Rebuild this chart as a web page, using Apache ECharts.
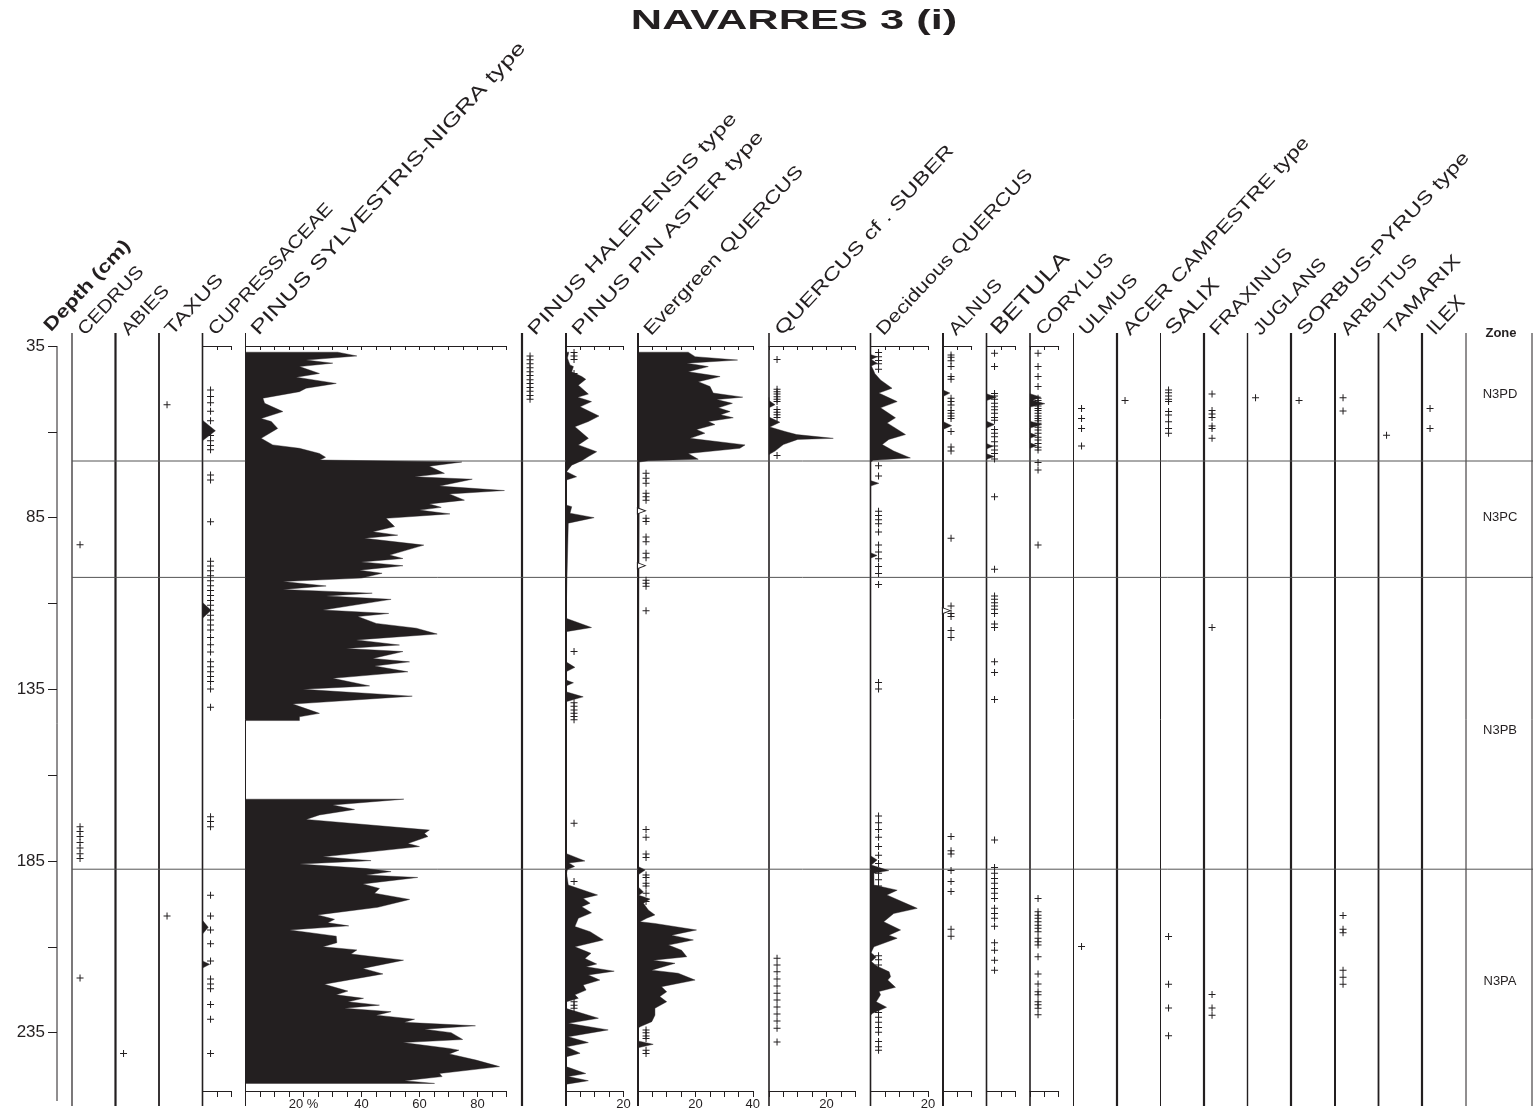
<!DOCTYPE html>
<html><head><meta charset="utf-8">
<script src="https://cdn.jsdelivr.net/npm/echarts/dist/echarts.min.js"></script>
<style>html,body{margin:0;padding:0;background:#fff}#c{width:1533px;height:1120px}</style>
</head><body><div id="c"></div>
<script>
// ---------------- DATA ----------------
const taxa = ['CEDRUS','ABIES','TAXUS','CUPRESSACEAE','PINUS SYLVESTRIS-NIGRA type','PINUS HALEPENSIS type','PINUS PIN ASTER type','Evergreen QUERCUS','QUERCUS cf . SUBER','Deciduous QUERCUS','ALNUS','BETULA','CORYLUS','ULMUS','ACER CAMPESTRE type','SALIX','FRAXINUS','JUGLANS','SORBUS-PYRUS type','ARBUTUS','TAMARIX','ILEX'];
const depthTicks = [35,60,85,110,135,160,185,210,235];
const depthLabels = [35,85,135,185,235];
const zoneBounds = [68.5, 102.4, 187.4];
const zoneNames = ['N3PD','N3PC','N3PB','N3PA'];
const zoneLabelDepths = [49, 85, 147, 220];

// Pinus sylvestris-nigra type (%), null = no samples (gap)
const psnDepth = [36.8,37.9,39.1,40.0,41.0,43.0,44.1,45.9,47.3,48.3,50.2,51.7,54.1,56.1,57.0,59.0,61.9,63.8,64.8,66.3,67.4,68.2,68.8,70.0,72.1,73.1,73.8,75.8,77.1,78.1,79.9,81.0,82.0,82.8,83.9,85.2,87.6,89.1,90.1,91.0,93.0,95.9,96.9,97.9,99.0,100.3,101.2,102.6,103.6,104.9,105.9,107.0,107.8,108.8,111.9,112.9,113.8,115.8,117.2,118.9,120.6,122.1,123.1,124.0,126.0,127.0,128.2,129.9,131.8,134.0,135.0,137.0,139.3,142.0,143.0,144.1,
 155.5,
 167.0,168.7,170.0,171.6,172.9,176.0,177.0,177.9,179.9,180.8,183.8,184.9,185.9,187.2,188.1,189.1,189.8,191.7,193.0,194.4,196.2,198.5,200.7,202.0,203.0,203.9,205.1,206.9,208.8,210.0,210.9,212.1,213.9,216.3,217.9,220.9,222.9,224.0,225.0,226.0,227.0,227.9,228.9,229.9,231.1,232.0,233.0,234.0,235.0,237.0,237.9,239.6,240.1,241.2,243.0,244.9,246.9,247.8,249.0,249.8];
const psnValue = [31.8,38.4,20.9,30.1,18.6,25.5,17.5,31.3,20.9,18.6,6.0,6.6,12.9,5.4,8.9,11.1,5.4,9.4,18.6,25.5,27.6,25.7,74.6,63.4,68.6,58.3,78.2,66.9,89.3,70.3,75.5,63.4,67.5,60.0,70.5,48.5,51.4,43.9,52.5,41.0,61.5,49.7,54.3,39.9,54.3,39.3,47.1,40.0,12.9,27.8,12.9,43.7,27.8,50.2,26.7,49.4,38.7,45.1,58.9,66.1,38.2,53.1,34.7,54.3,43.9,56.6,44.5,56.0,30.1,42.8,19.8,57.5,16.3,25.5,18.6,18.6,
 null,
 54.6,30.1,37.6,25.5,20.9,63.4,61.7,62.9,56.0,60.0,26.7,43.3,18.6,41.6,50.2,41.6,59.4,40.5,46.2,44.5,56.6,45.6,24.9,30.7,28.4,35.6,15.2,31.3,31.5,26.7,38.4,36.4,54.5,40.5,47.4,27.2,35.3,31.3,40.7,35.3,46.2,34.1,50.2,45.1,58.3,54.8,79.3,61.7,70.9,74.9,54.3,70.3,73.6,70.3,79.5,87.6,66.9,67.8,54.8,65.2];

// Pinus pinaster type
const ppinDepth = [36.8,38.5,40.5,41.0,42.5,43.9,44.7,46.4,49.0,49.9,51.2,52.7,55.4,57.0,58.5,61.9,63.8,65.8,67.2,68.4,69.7,71.6,73.1,74.0,81.3,81.8,83.7,85.0,86.6,114.3,117.0,118.2,127.0,128.6,129.9,132.3,133.1,134.0,135.7,137.2,138.6,182.8,185.0,185.6,186.6,187.5,188.6,192.0,194.9,195.9,197.3,198.3,200.1,201.7,204.1,205.6,208.0,210.0,211.9,213.4,215.0,215.8,217.1,218.2,219.7,221.1,222.6,224.0,225.0,226.0,228.0,230.8,232.3,234.2,236.2,237.9,239.1,241.0,242.0,244.9,246.9,247.8,249.0,250.0];
const ppinValue = [1.0,0.5,1.4,2.6,2.0,5.5,6.9,4.3,7.8,4.1,8.9,4.9,11.5,7.8,3.1,7.8,4.3,10.7,7.8,5.5,2.0,0.2,3.7,0.2,0,2.0,1.4,9.8,0.8,0,8.9,0,0,3.1,0,0,2.6,0,0,6.0,0,0,6.6,1.0,3.0,0.5,0.2,0.8,11.0,6.0,8.4,5.5,8.9,4.3,3.1,8.4,13.0,3.1,8.7,6.6,10.7,7.0,16.8,7.8,11.8,6.0,7.0,3.1,4.3,0.2,0.2,11.3,0.8,14.7,0.8,7.8,0.2,4.9,0.2,0,6.9,0.8,7.8,0.2];

// Evergreen Quercus
const evqDepth = [36.8,38.1,39.1,40.0,41.0,42.5,43.9,45.4,46.8,48.7,49.9,50.6,51.7,53.0,54.1,55.0,55.9,57.0,57.9,59.3,60.4,61.9,63.8,64.8,66.3,68.0,68.4,68.8,186.6,187.6,188.6,189.1,192.5,194.0,195.0,196.1,197.3,199.3,200.7,201.7,202.7,203.2,205.1,206.6,208.0,209.5,211.0,212.9,213.9,214.8,216.8,217.7,219.7,221.6,223.1,224.5,226.0,227.9,229.9,231.8,233.3,233.7,237.4,238.4,239.4];
const evqValue = [17.5,19.9,34.7,17.0,24.5,17.5,28.6,21.0,25.1,26.2,36.5,27.4,32.9,28.0,32.1,28.8,33.2,24.5,26.8,20.4,23.3,18.1,37.3,35.5,17.5,21.0,3.6,0.5,0,2.5,0.8,0,0,1.9,0.3,4.2,1.9,3.6,5.9,3.0,0.7,5.9,20.4,11.7,19.3,10.6,15.2,17.0,5.3,12.9,4.8,14.0,19.9,8.2,10.0,7.6,10.0,5.9,5.9,4.8,0.7,0,0,5.3,0];

// Quercus cf. suber
const suberDepth = [50.0,50.9,52.1,53.0,55.7,57.2,58.6,59.9,60.8,61.9,62.2,63.7,65.6,66.6];
const suberValue = [0,0,2.1,0,0,3.8,0.3,5.6,9.6,22.4,10.0,5.0,2.1,0];

// Deciduous Quercus
const decqDepth = [37.5,38.1,38.9,40.0,40.8,42.0,43.0,44.9,47.3,48.7,51.2,53.0,55.9,57.4,60.8,62.2,63.7,65.6,67.6,68.3,68.8,74.2,75.0,75.8,95.2,96.0,96.8,183.5,184.7,186.2,187.8,188.6,192.0,193.5,194.9,198.8,200.3,202.7,205.1,206.6,207.5,210.0,211.7,213.0,214.3,215.5,217.3,218.7,219.7,221.8,223.0,224.0,226.0,227.6,229.4,230.0];
const decqValue = [0,2.3,0.3,2.3,0.3,1.0,1.5,3.5,7.5,2.9,9.3,3.5,8.7,5.8,12.2,6.4,4.1,8.1,13.9,1.0,0,0,2.9,0,0,2.3,0,0,2.3,0.3,6.4,1.2,1.2,9.3,5.7,16.3,8.1,4.6,10.5,6.4,9.3,1.2,0.2,2.0,0.3,2.0,6.5,7.0,6.0,8.7,3.0,3.5,2.0,5.6,0.6,0];

// small silhouettes
const cupDepth = [56.6,59.7,62.6,109.7,112.0,114.3,202.3,204.3,206.3,214.1,215.1,216.2];
const cupValue = [0,4.5,0,0,3.0,0,0,2.0,0,0,2.5,0];
const alnusDepth = [47.8,48.7,49.7,57.0,58.2,59.3];
const alnusValue = [0,2.4,0,0,3.0,0];
const betulaDepth = [48.9,49.9,50.9,56.9,57.9,58.9,63.4,64.2,65.0,66.4,67.2,68.0];
const betulaValue = [0,3.4,0,0,2.8,0,0,2.2,0,0,2.8,0];
const corylusDepth = [48.9,49.9,50.8,51.8,52.8,56.9,57.9,58.9,60.3,61.1,61.9,63.2,64.0,64.8];
const corylusValue = [0,3.8,1.0,5.2,0,0,4.1,0,0,2.4,0,0,2.4,0];

// "+" = present below 1 % (depths, cm)
const cedrusPlus = [92.9,175.0,176.4,177.9,179.6,181.2,182.9,184.3,219.1];
const abiesPlus = [241.1];
const taxusPlus = [52.1,201.0];
const cupPlus = [47.8,49.7,51.5,54.0,56.8,59.7,61.1,62.6,64.0,65.2,72.6,74.0,86.2,97.7,99.1,100.5,101.9,103.4,104.8,106.2,107.7,109.1,110.5,112.0,113.4,114.8,116.3,117.7,119.9,122.0,124.1,127.0,128.4,129.9,131.3,132.7,134.9,140.2,172.1,173.5,175.0,195.0,201.0,205.1,209.1,214.1,219.4,220.8,222.2,226.8,231.1,241.1];
const phalPlus = [37.9,39.0,40.2,41.3,42.5,43.6,44.8,45.9,47.1,48.2,49.4,50.5];
const ppinPlus = [36.9,37.9,38.9,43.0,124.0,138.9,139.9,141.0,142.0,142.9,143.9,174.0,191.0,226.0,227.0,227.9];
const evqPlus = [72.1,73.5,75.0,77.9,78.9,79.9,85.2,86.1,90.6,92.0,95.4,96.7,103.2,104.1,105.0,112.1,175.8,178.1,183.0,184.0,189.1,189.8,191.5,192.3,194.4,196.8,234.2,235.0,236.0,236.7,240.1,241.1];
const evqOpen = [83.0,99.0];
const suberPlus = [38.9,47.6,48.3,49.0,49.8,50.5,51.2,53.5,54.3,55.0,55.8,66.9,213.3,215.3,217.3,219.4,221.4,223.5,225.5,227.5,229.6,231.6,233.7,237.7];
const decqPlus = [36.9,38.1,39.2,40.2,41.8,69.9,72.9,83.1,84.4,85.6,86.8,89.2,93.0,95.0,97.0,99.2,101.3,104.5,133.0,134.9,171.9,173.9,175.8,178.1,180.8,183.3,185.7,188.6,190.5,192.3,212.6,213.8,215.3,229.1,230.5,232.0,233.5,234.9,237.6,239.1,240.1];
const alnusPlus = [37.6,38.3,39.3,41.0,43.9,44.7,50.2,51.2,52.2,53.8,54.6,55.4,56.1,59.9,64.4,65.6,91.0,110.7,112.9,113.8,117.9,119.9,177.9,182.0,183.0,187.8,191.0,193.9,204.9,206.9];
const alnusOpen = [112.1];
const betulaPlus = [37.1,41.0,48.8,49.6,50.5,51.7,52.7,53.6,54.6,55.8,56.6,59.3,60.4,61.4,62.9,64.1,65.3,66.3,67.9,78.9,100.0,107.8,108.8,109.8,110.7,111.7,112.9,116.0,117.0,127.0,130.1,138.0,178.9,186.9,188.6,190.1,191.5,193.0,194.4,195.9,198.8,200.3,201.7,204.0,208.8,211.0,213.9,216.8];
const corylusPlus = [37.1,41.0,43.9,46.8,50.2,50.9,51.7,52.5,53.2,53.8,54.6,55.4,56.1,56.8,57.5,58.7,59.5,60.4,61.6,62.4,63.4,64.5,65.3,68.9,71.1,93.0,195.9,199.8,200.8,201.7,202.7,203.7,204.6,205.6,207.5,208.5,209.5,212.9,217.9,220.8,223.1,224.0,226.0,226.9,227.9,229.8];
const ulmusPlus = [53.2,56.1,59.0,64.1,209.9];
const acerPlus = [50.9];
const salixPlus = [47.8,48.6,49.6,50.5,51.2,54.1,55.1,57.1,59.0,60.4,207.0,220.9,227.8,235.9];
const fraxPlus = [49.0,53.8,54.8,55.8,58.3,59.0,61.9,117.0,223.9,227.8,229.9];
const juglansPlus = [50.1];
const sorbusPlus = [50.9];
const arbutusPlus = [50.1,53.9,200.9,204.9,205.9,216.8,218.9,220.9];
const tamarixPlus = [61.0];
const ilexPlus = [53.2,59.0];

// ---------------- LAYOUT ----------------
const INK = '#231f20';
const FONT = '"Liberation Sans", Arial, sans-serif';
const TOP = 346, H = 745, DMIN = 35, DMAX = 252;
const PX = 2.87;     // px per percent
const PLUS_X = 2.8;  // marker offset (percent units)
const OPEN_X = 1.2;
const ROT = 47 * Math.PI / 180;

// fs = header font size, sx = header horizontal stretch
const cols = [
 {x:72,   max:10, axis:false, lw:1.2, fs:18, sx:1.15, plus:cedrusPlus},
 {x:115.5,max:10, axis:false, lw:2.2, fs:18, sx:1.15, plus:abiesPlus},
 {x:159,  max:10, axis:false, lw:1.8, fs:18, sx:1.30, plus:taxusPlus},
 {x:202.5,max:10, axis:true,  lw:1.6, fs:18, sx:1.17, plus:cupPlus, area:[cupDepth,cupValue]},
 {x:245.5,max:90, axis:true,  lw:1.0, fs:19, sx:1.37, px:2.9, labels:[20,40,60,80], area:[psnDepth,psnValue]},
 {x:522,  max:10, axis:false, lw:2.2, fs:18, sx:1.40, plus:phalPlus},
 {x:566,  max:20, axis:true,  lw:2.0, fs:18, sx:1.40, labels:[20], plus:ppinPlus, area:[ppinDepth,ppinValue]},
 {x:638,  max:40, axis:true,  lw:2.0, fs:18, sx:1.26, labels:[20,40], plus:evqPlus, open:evqOpen, area:[evqDepth,evqValue]},
 {x:769,  max:30, axis:true,  lw:1.6, fs:18, sx:1.36, labels:[20], plus:suberPlus, area:[suberDepth,suberValue]},
 {x:870.5,max:20, axis:true,  lw:1.6, fs:18, sx:1.22, labels:[20], plus:decqPlus, area:[decqDepth,decqValue]},
 {x:943,  max:10, axis:true,  lw:2.0, fs:18, sx:1.15, plus:alnusPlus, open:alnusOpen, area:[alnusDepth,alnusValue]},
 {x:986.5,max:10, axis:true,  lw:1.6, fs:21, sx:1.28, plus:betulaPlus, area:[betulaDepth,betulaValue]},
 {x:1030, max:10, axis:true,  lw:1.6, fs:18, sx:1.21, plus:corylusPlus, area:[corylusDepth,corylusValue]},
 {x:1073.5,max:10,axis:false, lw:1.0, fs:18, sx:1.21, plus:ulmusPlus},
 {x:1117, max:10, axis:false, lw:2.2, fs:18, sx:1.28, plus:acerPlus},
 {x:1160.5,max:10,axis:false, lw:1.0, fs:20, sx:1.22, plus:salixPlus},
 {x:1204, max:10, axis:false, lw:2.2, fs:18, sx:1.23, plus:fraxPlus},
 {x:1247.5,max:10,axis:false, lw:1.4, fs:18, sx:1.18, plus:juglansPlus},
 {x:1291, max:10, axis:false, lw:2.2, fs:18, sx:1.33, plus:sorbusPlus},
 {x:1335, max:10, axis:false, lw:2.0, fs:18, sx:1.20, plus:arbutusPlus},
 {x:1378.5,max:10,axis:false, lw:1.8, fs:18, sx:1.30, plus:tamarixPlus},
 {x:1422, max:10, axis:false, lw:2.2, fs:20, sx:1.05, plus:ilexPlus}
];

const PLUS = 'path://M3,0H4V3H7V4H4V7H3V4H0V3H3Z';
const grid = [], xAxis = [], yAxis = [], series = [];

// grid 0 : depth axis
grid.push({left:57, top:TOP, width:8, height:H});
xAxis.push({gridIndex:0, type:'value', show:false}, {gridIndex:0, type:'value', show:false});
yAxis.push({gridIndex:0, type:'value', inverse:true, min:DMIN, max:DMAX, position:'left',
  axisLine:{show:false}, splitLine:{show:false},
  axisTick:{show:true, length:9, customValues:depthTicks, lineStyle:{color:INK, width:1}},
  axisLabel:{show:true, customValues:depthLabels, fontSize:17, color:INK, fontFamily:FONT, margin:12}});

function areaSeries(gi, depths, values) {
  return {
    type:'custom', xAxisIndex:gi*2, yAxisIndex:gi, silent:true, animation:false,
    data: depths.map((d,i)=>[values[i]==null?0:values[i], d]),
    encode:{x:0, y:1},
    renderItem: function(params, api) {
      if (params.dataIndex !== 0) return null;
      const kids = []; let run = [];
      const flush = () => {
        if (!run.length) return;
        const pts = [api.coord([0, run[0][1]])];
        run.forEach(p => pts.push(api.coord(p)));
        pts.push(api.coord([0, run[run.length-1][1]]));
        kids.push({type:'polygon', shape:{points:pts}, style:{fill:INK, stroke:INK, lineWidth:0.4}});
        run = [];
      };
      depths.forEach((d,i)=>{ if (values[i]==null) flush(); else run.push([values[i], d]); });
      flush();
      return {type:'group', children:kids};
    }
  };
}

cols.forEach((c, i) => {
  const gi = i + 1;
  const k = c.px || PX;
  grid.push({left:c.x, top:TOP, width:c.max*k, height:H});
  const ticks = []; for (let v=0; v<=c.max; v+=5) ticks.push(v);
  xAxis.push({gridIndex:gi, type:'value', min:0, max:c.max, position:'top', show:c.axis,
    axisLine:{show:true, lineStyle:{color:INK, width:1}}, splitLine:{show:false},
    axisTick:{show:true, inside:true, length:4, customValues:ticks, lineStyle:{color:INK, width:1}},
    axisLabel:{show:false}});
  xAxis.push({gridIndex:gi, type:'value', min:0, max:c.max, position:'bottom', show:c.axis,
    axisLine:{show:true, lineStyle:{color:INK, width:1}}, splitLine:{show:false},
    axisTick:{show:true, length:6, customValues:ticks, lineStyle:{color:INK, width:1}},
    axisLabel:{show:!!c.labels, customValues:c.labels||[], fontSize:13, color:INK, fontFamily:FONT, margin:7,
      formatter: v => (k===2.9 && v===20) ? '20 %' : String(v)}});
  yAxis.push({gridIndex:gi, type:'value', inverse:true, min:DMIN, max:DMAX, show:false});
  if (c.area) series.push(areaSeries(gi, c.area[0], c.area[1]));
  if (c.plus) series.push({type:'scatter', xAxisIndex:gi*2, yAxisIndex:gi, silent:true, animation:false,
    symbol:PLUS, symbolSize:7, itemStyle:{color:INK, opacity:1},
    data:c.plus.map(d=>[PLUS_X, d])});
  if (c.open) series.push({type:'scatter', xAxisIndex:gi*2, yAxisIndex:gi, silent:true, animation:false,
    symbol:'triangle', symbolRotate:-90, symbolSize:[6,8], itemStyle:{color:'#fff', borderColor:INK, borderWidth:1, opacity:1},
    data:c.open.map(d=>[OPEN_X, d])});
});

const chart = echarts.init(document.getElementById('c'), null, {renderer:'canvas'});
chart.setOption({backgroundColor:'#fff', animation:false, grid, xAxis, yAxis, series});

// ---------------- DECORATION (positions through the axes) ----------------
const g = [];
const yOf = d => chart.convertToPixel({yAxisIndex:0}, d);
const LINE_TOP = 333, LINE_BOT = 1106;
g.push({type:'line', shape:{x1:57, y1:TOP, x2:57, y2:1101}, style:{stroke:INK, lineWidth:1}, silent:true});
cols.forEach((c, i) => {
  const x = chart.convertToPixel({xAxisIndex:(i+1)*2}, 0);
  g.push({type:'line', shape:{x1:x, y1:LINE_TOP, x2:x, y2:LINE_BOT}, style:{stroke:INK, lineWidth:c.lw}, silent:true});
  g.push({type:'text', x:x+16, y:339, rotation:ROT, scaleX:c.sx, silent:true,
    style:{text:taxa[i], fill:INK, font:c.fs + 'px ' + FONT, textAlign:'left', textVerticalAlign:'bottom', align:'left', verticalAlign:'bottom'}});
});
// zone column
g.push({type:'line', shape:{x1:1466, y1:LINE_TOP, x2:1466, y2:LINE_BOT}, style:{stroke:INK, lineWidth:1}, silent:true});
g.push({type:'line', shape:{x1:1532, y1:LINE_TOP, x2:1532, y2:LINE_BOT}, style:{stroke:INK, lineWidth:1}, silent:true});
zoneBounds.forEach(z => {
  const y = yOf(z);
  g.push({type:'line', shape:{x1:72, y1:y, x2:1533, y2:y}, style:{stroke:'#555', lineWidth:1}, silent:true});
});
zoneNames.forEach((n, i) => {
  g.push({type:'text', x:1500, y:yOf(zoneLabelDepths[i]), silent:true,
    style:{text:n, fill:INK, font:'13px ' + FONT, textAlign:'center', textVerticalAlign:'middle', align:'center', verticalAlign:'middle'}});
});
g.push({type:'text', x:1501, y:333, silent:true,
  style:{text:'Zone', fill:INK, font:'bold 13px ' + FONT, textAlign:'center', textVerticalAlign:'middle', align:'center', verticalAlign:'middle'}});
g.push({type:'text', x:54, y:335, rotation:ROT, scaleX:1.25, silent:true,
  style:{text:'Depth (cm)', fill:INK, font:'bold 18px ' + FONT, textAlign:'left', textVerticalAlign:'bottom', align:'left', verticalAlign:'bottom'}});
g.push({type:'text', x:794, y:21, scaleX:1.55, silent:true,
  style:{text:'NAVARRES 3 (i)', fill:INK, font:'bold 28px ' + FONT, textAlign:'center', textVerticalAlign:'middle', align:'center', verticalAlign:'middle'}});
chart.setOption({graphic:{elements:g}});
</script></body></html>
